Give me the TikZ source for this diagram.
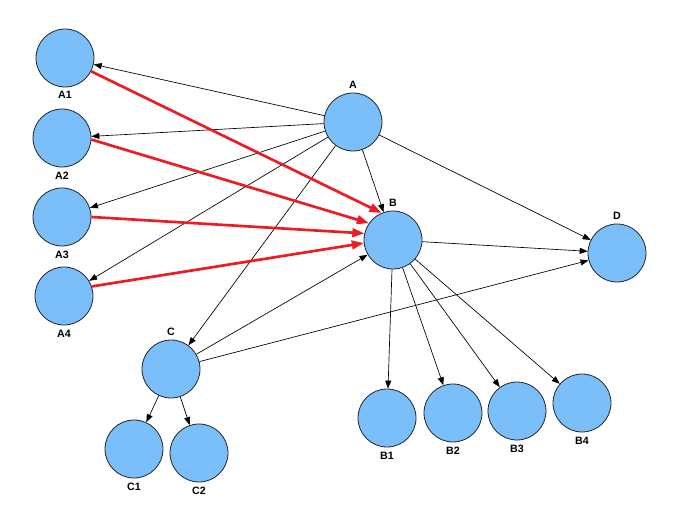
\documentclass[tikz,border=0pt]{standalone}
\usepackage{fontspec}
\setmainfont{Liberation Sans}
\usetikzlibrary{arrows.meta}
\definecolor{nodeblue}{RGB}{122,190,250}
\definecolor{linkred}{RGB}{237,28,36}

\begin{document}
\begin{tikzpicture}[
    x=0.75pt, y=-0.75pt,
    state/.style={circle, draw=black!85, fill=nodeblue, minimum size=43.5pt, inner sep=0pt, line width=0.6pt},
    tag/.style={font=\fontsize{8}{9}\selectfont\bfseries, inner sep=1pt},
    arrow/.style={-{Triangle[length=6pt,width=4.5pt]}, line width=0.5pt},
    redarrow/.style={-{Triangle[length=9pt,width=6.5pt]}, draw=linkred, line width=2pt}
]
    \useasboundingbox (0,0) rectangle (681,523);

    % Top node
    \node[state, label={[tag, label distance=2pt]above:A}] (A) at (353,122) {};

    % Left column
    \node[state, label={[tag, label distance=2pt]below:A1}] (A1) at (65,58) {};
    \node[state, label={[tag, label distance=2pt]below:A2}] (A2) at (62,138) {};
    \node[state, label={[tag, label distance=2pt]below:A3}] (A3) at (62,217) {};
    \node[state, label={[tag, label distance=2pt]below:A4}] (A4) at (64,296) {};

    % Middle and right
    \node[state, label={[tag, label distance=2pt]above:B}] (B) at (393,240) {};
    \node[state, label={[tag, label distance=2pt]above:D}] (D) at (617,253) {};

    % Children of B
    \node[state, label={[tag, label distance=2pt]below:B1}] (B1) at (387,418) {};
    \node[state, label={[tag, label distance=2pt]below:B2}] (B2) at (453,413) {};
    \node[state, label={[tag, label distance=2pt]below:B3}] (B3) at (517,411) {};
    \node[state, label={[tag, label distance=2pt]below:B4}] (B4) at (582,403) {};

    % C and its children
    \node[state, label={[tag, label distance=2pt]above:C}] (C) at (171,369) {};
    \node[state, label={[tag, label distance=2pt]below:C1}] (C1) at (134,449) {};
    \node[state, label={[tag, label distance=2pt]below:C2}] (C2) at (199,453) {};

    % Arrows from A
    \foreach \t in {A1,A2,A3,A4,B,C,D}
        \draw[arrow] (A) -- (\t);

    % Arrows from B
    \foreach \t in {D,B1,B2,B3,B4}
        \draw[arrow] (B) -- (\t);

    % Arrows from C
    \foreach \t in {B,D,C1,C2}
        \draw[arrow] (C) -- (\t);

    % Red links into B
    \foreach \s/\a/\b in {A1/-27/113, A2/-3/145, A3/0/167, A4/19/186}
        \draw[redarrow] (\s.\a) -- (B.\b);
\end{tikzpicture}
\end{document}
